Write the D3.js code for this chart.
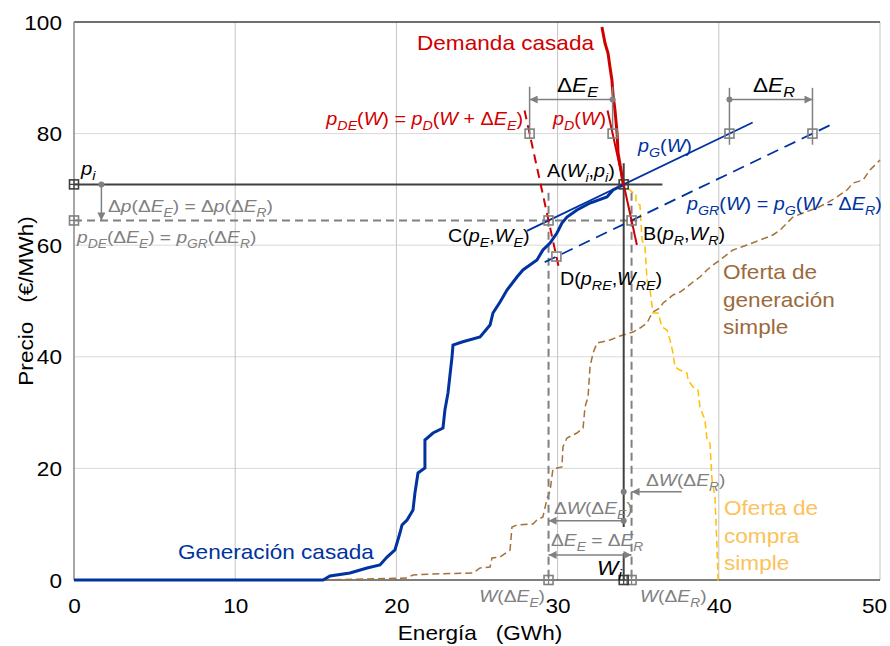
<!DOCTYPE html>
<html>
<head>
<meta charset="utf-8">
<script src="https://cdn.jsdelivr.net/npm/d3@7"></script>
<style>
  body { margin: 0; background: #fff; }
  svg text { font-family: "Liberation Sans", Arial, sans-serif; white-space: pre; }
</style>
</head>
<body>
<svg id="chart" width="890" height="646"></svg>
<script>
// ejes
const xTicks = [0, 10, 20, 30, 40, 50];
const yTicks = [0, 20, 40, 60, 80, 100];

// curvas casadas (GWh, €/MWh)
const genCasada = [
  [0, 0], [15.45, 0], [15.88, 0.72], [17.12, 1.25], [18.18, 2.15], [18.98, 2.69], [19.42, 4.12],
  [19.91, 5.38], [20.22, 8.42], [20.35, 9.86], [20.66, 10.75], [21.03, 12.54], [21.15, 15.59],
  [21.34, 19.18], [21.77, 20.07], [21.77, 25.09], [22.27, 26.34], [22.89, 27.24], [23.01, 30.47],
  [23.2, 33.51], [23.45, 39.96], [23.51, 42.11], [24.07, 42.65], [25.19, 43.55], [25.81, 45.7],
  [25.99, 47.85], [26.43, 49.82], [26.86, 51.97], [27.48, 54.3], [27.85, 55.56], [28.72, 57.35],
  [29.09, 59.14], [29.53, 60.39], [29.96, 62.19], [30.27, 63.98], [30.58, 65.05], [31.2, 66.31],
  [32.01, 67.56], [33.06, 68.64], [33.44, 69.89], [34.06, 70.79]
];
const demCasada = [
  [32.75, 99.1], [32.94, 96.2], [33.13, 94.4], [33.25, 91.9], [33.37, 89.6], [33.44, 86.9],
  [33.56, 84.2], [33.69, 80.1], [33.75, 76.5], [33.93, 73.5], [34.06, 71.1], [34.12, 70.6]
];
// ofertas simples
const ofertaGen = [
  [15.45, 0], [20.66, 0.36], [21.03, 0.9], [22.27, 1.08], [24.75, 1.25], [25.19, 2.15], [25.81, 2.33],
  [25.93, 3.94], [26.43, 4.12], [27.05, 5.38], [27.17, 9.5], [27.48, 9.86], [28.47, 10.04],
  [28.72, 10.75], [29.09, 11.29], [29.34, 14.52], [29.53, 15.95], [29.71, 19.89], [30.27, 20.25],
  [30.33, 23.84], [30.58, 25.45], [31.2, 26.34], [31.58, 27.24], [31.7, 31.0], [31.89, 32.8],
  [32.01, 38.17], [32.2, 40.68], [32.44, 42.47], [33.25, 43.01], [33.87, 43.73], [34.68, 44.44],
  [35.11, 45.16], [35.55, 46.06], [35.73, 47.13], [35.92, 48.03], [36.35, 48.75], [36.54, 49.64],
  [36.79, 50.18], [37.16, 51.08], [37.59, 51.61], [38.03, 52.51], [38.4, 53.41], [38.83, 54.3],
  [39.27, 55.56], [39.64, 56.45], [40.07, 57.35], [40.88, 59.14], [41.75, 60.04], [42.56, 60.93],
  [43.36, 61.83], [43.8, 62.72], [44.23, 63.98], [44.6, 65.05], [45.22, 65.77], [46.09, 66.67],
  [46.71, 67.56], [47.33, 68.64], [47.95, 69.89], [48.33, 71.15], [48.95, 71.68], [49.38, 73.48],
  [49.81, 74.73], [50, 75.27]
];
const ofertaCompra = [
  [32.75, 99.1], [33.13, 94.4], [33.37, 89.6], [33.56, 84.2], [33.75, 76.5], [34.06, 71.1],
  [34.62, 69.53], [34.86, 69.35], [34.86, 67.56], [35.11, 67.2], [35.24, 60.93], [35.42, 59.68],
  [35.55, 53.76], [35.73, 51.97], [35.92, 47.85], [36.23, 47.85], [36.48, 45.34], [36.79, 44.8],
  [36.97, 43.01], [37.16, 40.68], [37.28, 38.17], [37.59, 37.63], [38.03, 37.1], [38.09, 35.84],
  [38.4, 34.59], [38.71, 34.05], [38.83, 31.0], [39.14, 28.67], [39.27, 25.09], [39.45, 24.55],
  [39.58, 17.92], [39.76, 14.87], [39.89, 5.91], [39.95, 0], [40.2, 0]
];

// punto de casación y desplazamientos
const Wi = 34.1, pI = 70.9, dE = 5.15;
const slopeG = 1.387, slopeD = -13.25;
const rangeG = [28.1, 42.1], rangeGR = [29.2, 47.2], rangeD = [33.1, 34.92], rangeDE = [27.95, 30.13];

const SX = 1.13; // texto algo ensanchado como en el original
const svg = d3.select("#chart");
const x = d3.scaleLinear().domain([0, 50]).range([74, 880]);
const y = d3.scaleLinear().domain([0, 100]).range([580, 22]);

const pG = W => pI + slopeG * (W - Wi);
const pGR = W => pG(W - dE);
const pD = W => pI + slopeD * (W - Wi);
const pDE = W => pD(W + dE);
function cross(f1, f2) {
  const a = f1(0) - f2(0), b = f1(1) - f2(1);
  return a / (a - b);
}
const WE = cross(pG, pDE), WR = cross(pGR, pD), WRE = cross(pGR, pDE);
const pE = pG(WE);

const grey = "#808080", red = "#d00000", blue = "#0033a0";

// flechas
const defs = svg.append("defs");
defs.append("marker").attr("id", "arr")
  .attr("viewBox", "0 0 10 10").attr("refX", 10).attr("refY", 5)
  .attr("markerWidth", 10).attr("markerHeight", 8)
  .attr("markerUnits", "userSpaceOnUse")
  .attr("orient", "auto-start-reverse")
  .append("path").attr("d", "M0,0L10,5L0,10z").attr("fill", grey);

// rejilla
svg.append("g").selectAll("line").data(yTicks.slice(1, -1)).join("line")
  .attr("x1", x(0)).attr("x2", x(50)).attr("y1", d => y(d)).attr("y2", d => y(d))
  .attr("stroke", "#d9d9d9");
svg.append("g").selectAll("line").data(xTicks.slice(1)).join("line")
  .attr("x1", d => x(d)).attr("x2", d => x(d)).attr("y1", y(0)).attr("y2", y(100))
  .attr("stroke", "#c4c4c4");
svg.append("line").attr("x1", x(0)).attr("x2", x(50)).attr("y1", y(100)).attr("y2", y(100))
  .attr("stroke", "#404040").attr("stroke-width", 1.5);
svg.append("line").attr("x1", x(0)).attr("x2", x(0)).attr("y1", y(0)).attr("y2", y(100))
  .attr("stroke", "#8a8a8a").attr("stroke-width", 1.5);
svg.append("line").attr("x1", x(0)).attr("x2", x(50)).attr("y1", y(0)).attr("y2", y(0))
  .attr("stroke", "#000").attr("stroke-width", 1.2);

// ejes
const xAxis = svg.append("g").attr("transform", `translate(0,${y(0)})`)
  .call(d3.axisBottom(x).tickValues(xTicks).tickSize(0).tickPadding(0));
xAxis.select(".domain").remove();
xAxis.selectAll("text").attr("y", 0).attr("dy", 0)
  .attr("transform", d => `translate(${d === 50 ? -6 : 0},33) scale(${SX},1)`)
  .attr("font-size", 20).attr("fill", "#000");
const yAxis = svg.append("g").attr("transform", `translate(${x(0)},0)`)
  .call(d3.axisLeft(y).tickValues(yTicks).tickSize(0).tickPadding(0));
yAxis.select(".domain").remove();
yAxis.selectAll("text").attr("x", 0).attr("dy", "0.35em")
  .attr("transform", `translate(-12,0) scale(${SX},1)`)
  .attr("font-size", 20).attr("fill", "#000");

svg.append("text").attr("transform", `translate(480,640) scale(${SX},1)`)
  .attr("text-anchor", "middle").attr("font-size", 20).text("Energía   (GWh)");
svg.append("text").attr("transform", `translate(33,301) rotate(-90) scale(${SX},1)`)
  .attr("text-anchor", "middle").attr("font-size", 20).text("Precio   (€/MWh)");

const line = d3.line().x(d => x(d[0])).y(d => y(d[1]));
const fnLine = (f, r) => line(r.map(W => [W, f(W)]));

// ofertas simples
svg.append("path").attr("d", line(ofertaGen)).attr("fill", "none")
  .attr("stroke", "#a5703a").attr("stroke-width", 1.5).attr("stroke-dasharray", "7,4");
svg.append("path").attr("d", line(ofertaCompra)).attr("fill", "none")
  .attr("stroke", "#ffc000").attr("stroke-width", 1.5).attr("stroke-dasharray", "7,4");

// líneas grises discontinuas de construcción
const gd = svg.append("g").attr("stroke", grey).attr("stroke-width", 2).attr("stroke-dasharray", "8,5").attr("fill", "none");
gd.append("path").attr("d", line([[0, pE], [WR + 0.35, pE]]));
gd.append("path").attr("d", line([[WE, 69.4], [WE, 0]]));
gd.append("path").attr("d", line([[WR, 69.4], [WR, 0]]));

// líneas negras en el punto de casación
const gb = svg.append("g").attr("stroke", "#404040").attr("stroke-width", 2).attr("fill", "none");
gb.append("path").attr("d", line([[0, pI], [36.5, pI]]));
gb.append("path").attr("d", line([[Wi, 74.7], [Wi, 9.5]]));
gb.append("path").attr("d", line([[Wi, 4.8], [Wi, 0]]));

// curvas casadas
svg.append("path").attr("d", line(genCasada)).attr("fill", "none")
  .attr("stroke", blue).attr("stroke-width", 3);
svg.append("path").attr("d", line(demCasada)).attr("fill", "none")
  .attr("stroke", red).attr("stroke-width", 3);

// rectas aproximadas
svg.append("path").attr("d", fnLine(pG, rangeG)).attr("fill", "none").attr("stroke", blue).attr("stroke-width", 1.8);
svg.append("path").attr("d", fnLine(pGR, rangeGR)).attr("fill", "none").attr("stroke", blue)
  .attr("stroke-width", 1.8).attr("stroke-dasharray", "12,7");
svg.append("path").attr("d", fnLine(pD, rangeD)).attr("fill", "none").attr("stroke", red).attr("stroke-width", 2);
svg.append("path").attr("d", fnLine(pDE, rangeDE)).attr("fill", "none").attr("stroke", red)
  .attr("stroke-width", 2).attr("stroke-dasharray", "9,6");

// cotas
const ga = svg.append("g").attr("stroke", grey).attr("stroke-width", 1.5).attr("fill", "none");
const Wd80 = Wi + (80 - pI) / slopeD, Wg80 = Wi + (80 - pI) / slopeG;
ga.append("path").attr("d", line([[Wd80 - dE, 88.4], [Wd80 - dE, 79]]));
ga.append("path").attr("d", line([[Wd80, 88.4], [Wd80, 80.8]]));
ga.append("path").attr("d", line([[Wg80, 88.2], [Wg80, 78]]));
ga.append("path").attr("d", line([[Wg80 + dE, 88.2], [Wg80 + dE, 78]]));
const arrows = [
  { from: [Wd80, 86.1], to: [Wd80 - dE, 86.1], dot: true },
  { from: [Wg80, 86.1], to: [Wg80 + dE, 86.1], dot: true },
  { from: [1.7, pI], to: [1.7, pE], dot: true },
  { from: [37.7, 15.8], to: [WR, 15.8], dot: false },
  { from: [Wi, 10.6], to: [WE, 10.6], dot: true },
  { from: [Wi, 4.5], to: [WE, 4.5], dot: false, both: true, end2: [WR, 4.5] }
];
arrows.forEach(a => {
  ga.append("path").attr("d", line([a.from, a.to])).attr("marker-end", "url(#arr)");
  if (a.both) ga.append("path").attr("d", line([a.from, a.end2])).attr("marker-end", "url(#arr)");
  if (a.dot) svg.append("circle").attr("cx", x(a.from[0])).attr("cy", y(a.from[1])).attr("r", 3).attr("fill", grey);
});
svg.append("circle").attr("cx", x(Wi)).attr("cy", y(15.8)).attr("r", 3).attr("fill", grey);

// marcadores
const sq = (W, p, col) => svg.append("rect").attr("x", x(W) - 4.5).attr("y", y(p) - 4.5)
  .attr("width", 9).attr("height", 9).attr("fill", "none").attr("stroke", col).attr("stroke-width", 1.6);
const sqPlus = (W, p, col) => {
  sq(W, p, col);
  svg.append("path").attr("d", `M${x(W) - 4.5},${y(p)}h9M${x(W)},${y(p) - 4.5}v9`)
    .attr("stroke", col).attr("stroke-width", 1.2);
};
[[WE, pE], [WR, pE], [WRE, pGR(WRE)], [Wd80 - dE, 80], [Wd80, 80], [Wg80, 80], [Wg80 + dE, 80]]
  .forEach(d => sq(d[0], d[1], grey));
sq(Wi, pI, "#404040");
sqPlus(0, pI, "#404040");
sqPlus(0, pE, grey);
sqPlus(WE, 0, grey);
sqPlus(WR, 0, grey);
sqPlus(Wi, 0, "#404040");

// texto enriquecido: *cursiva*, _{subíndice}
function rich(px, py, str, size, color, anchor) {
  const t = svg.append("text").attr("transform", `translate(${px},${py}) scale(${SX},1)`)
    .attr("font-size", size).attr("fill", color).attr("text-anchor", anchor || "start");
  let italic = false, buf = "", shift = 0;
  const sub = size * 0.27;
  const flush = () => {
    if (!buf) return;
    const ts = t.append("tspan").text(buf).attr("font-style", italic ? "italic" : "normal");
    if (shift) { ts.attr("dy", shift); shift = 0; }
    buf = "";
  };
  for (let i = 0; i < str.length; i++) {
    const c = str[i];
    if (c === "*") { flush(); italic = !italic; }
    else if (c === "_" && str[i + 1] === "{") {
      flush();
      const j = str.indexOf("}", i);
      t.append("tspan").text(str.slice(i + 2, j))
        .attr("font-size", size * 0.72).attr("font-style", "italic").attr("dy", sub + shift);
      shift = -sub;
      i = j;
    } else buf += c;
  }
  flush();
  return t;
}

rich(417, 50, "Demanda casada", 20, red);
rich(523, 125, "*p*_{DE}(*W*) = *p*_{D}(*W* + Δ*E*_{E})", 17.5, red, "end");
rich(553, 125, "*p*_{D}(*W*)", 17.5, red);
rich(638, 152, "*p*_{G}(*W*)", 17.5, blue);
rich(687, 210, "*p*_{GR}(*W*) = *p*_{G}(*W* - Δ*E*_{R})", 17.5, blue);
rich(547, 177, "A(*W*_{i},*p*_{i})", 17.5, "#000");
rich(448, 242, "C(*p*_{E},*W*_{E})", 17.5, "#000");
rich(643, 240, "B(*p*_{R},*W*_{R})", 17.5, "#000");
rich(560, 285, "D(*p*_{RE},*W*_{RE})", 17.5, "#000");
rich(557, 92, "Δ*E*_{E}", 20, "#000");
rich(753, 92, "Δ*E*_{R}", 20, "#000");
rich(81, 175, "*p*_{i}", 18, "#000");
rich(108, 212, "Δ*p*(Δ*E*_{E}) = Δ*p*(Δ*E*_{R})", 17, grey);
rich(77, 243, "*p*_{DE}(Δ*E*_{E}) = *p*_{GR}(Δ*E*_{R})", 17, grey);
rich(646, 486, "Δ*W*(Δ*E*_{R})", 17, grey);
rich(554, 514, "Δ*W*(Δ*E*_{E})", 17, grey);
rich(551, 546, "Δ*E*_{E} = Δ*E*_{R}", 17, grey);
rich(597, 575, "*W*_{i}", 20, "#000");
rich(545, 602, "*W*(Δ*E*_{E})", 17, grey, "end");
rich(640, 602, "*W*(Δ*E*_{R})", 17, grey);

["Oferta de", "generación", "simple"].forEach((s, i) => rich(723, 279 + i * 27.5, s, 20, "#9c6a3a"));
["Oferta de", "compra", "simple"].forEach((s, i) => rich(724, 515 + i * 27.5, s, 20, "#fbc25a"));
rich(178, 559, "Generación casada", 20, blue);
</script>
</body>
</html>
